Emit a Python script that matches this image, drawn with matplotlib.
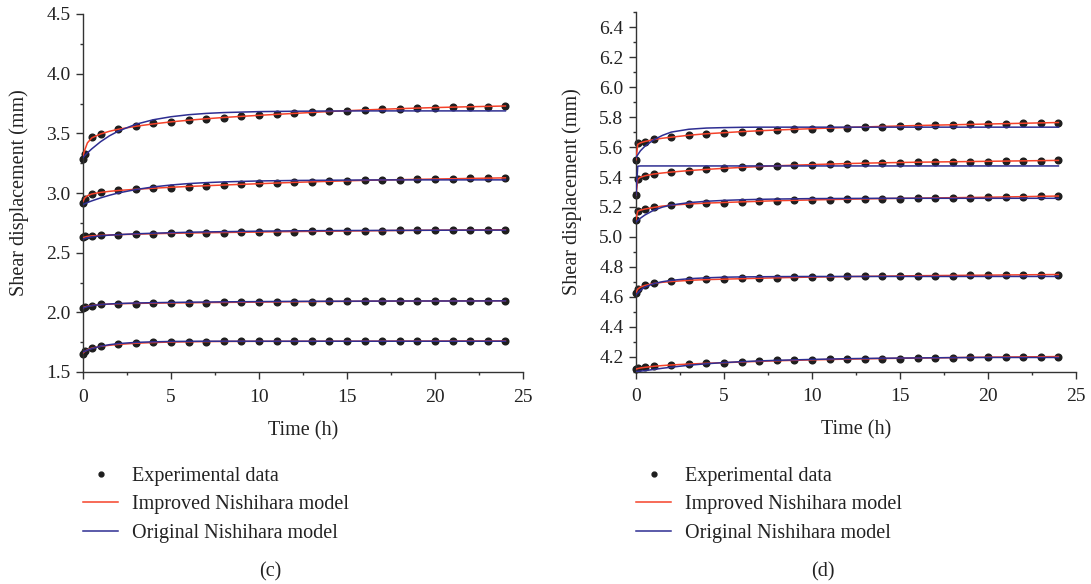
import numpy as np
import matplotlib
matplotlib.use("Agg")
import matplotlib.pyplot as plt
from matplotlib.ticker import MultipleLocator, FormatStrFormatter
from matplotlib.lines import Line2D

plt.rcParams['font.family'] = ['Liberation Serif', 'DejaVu Serif']

# ---------------- data ----------------
t_exp = [0, 0.1, 0.5, 1] + list(range(2, 25))
t_fit = [0, 0.1, 0.25, 0.5, 1, 1.5, 2, 3, 4, 5, 6, 7, 8, 10, 12, 14, 16, 18, 20, 22, 24]

# panel (c)
c1_exp = [3.283, 3.33, 3.471, 3.497, 3.533, 3.558, 3.583, 3.598, 3.612, 3.620, 3.632, 3.643, 3.651,
          3.660, 3.668, 3.676, 3.685, 3.690, 3.696, 3.702, 3.707, 3.713, 3.716, 3.718, 3.724, 3.724, 3.727]
c2_exp = [2.917, 2.948, 2.993, 3.008, 3.022, 3.030, 3.039, 3.044, 3.052, 3.058, 3.067, 3.078, 3.081,
          3.086, 3.092, 3.095, 3.100, 3.103, 3.106, 3.109, 3.111, 3.114, 3.117, 3.120, 3.123, 3.123, 3.126]
c3_exp = [2.631, 2.637, 2.642, 2.645, 2.651, 2.656, 2.659, 2.662, 2.665, 2.668, 2.668, 2.670, 2.673,
          2.676, 2.676, 2.679, 2.679, 2.681, 2.681, 2.684, 2.687, 2.687, 2.688, 2.688, 2.689, 2.689, 2.690]
c4_exp = [2.040, 2.046, 2.057, 2.066, 2.072, 2.074, 2.077, 2.078, 2.080, 2.082, 2.083, 2.085, 2.086,
          2.088, 2.089, 2.090, 2.091, 2.092, 2.093, 2.093, 2.094, 2.095, 2.095, 2.096, 2.096, 2.097, 2.097]
c5_exp = [1.653, 1.673, 1.701, 1.718, 1.732, 1.743, 1.748, 1.751, 1.754, 1.755, 1.756, 1.756, 1.757,
          1.757, 1.757, 1.758, 1.758, 1.758, 1.758, 1.759, 1.759, 1.759, 1.759, 1.759, 1.760, 1.760, 1.760]

c1_imp = [3.31, 3.36, 3.42, 3.462, 3.495, 3.517, 3.534, 3.559, 3.579, 3.596, 3.61, 3.622, 3.633,
          3.651, 3.667, 3.683, 3.696, 3.707, 3.716, 3.723, 3.729]
c1_org = [3.297, 3.314, 3.336, 3.37, 3.43, 3.479, 3.518, 3.576, 3.614, 3.639, 3.656, 3.667, 3.674,
          3.682, 3.685, 3.687, 3.688, 3.688, 3.688, 3.688, 3.688]
c2_imp = [2.93, 2.958, 2.977, 2.992, 3.005, 3.014, 3.021, 3.031, 3.04, 3.048, 3.055, 3.061, 3.067,
          3.078, 3.089, 3.098, 3.106, 3.112, 3.117, 3.122, 3.127]
c2_org = [2.904, 2.91, 2.92, 2.934, 2.959, 2.981, 3.0, 3.029, 3.051, 3.067, 3.079, 3.087, 3.093,
          3.101, 3.105, 3.107, 3.109, 3.11, 3.11, 3.11, 3.11]
c3_imp = [2.625, 2.631, 2.636, 2.641, 2.645, 2.648, 2.651, 2.655, 2.659, 2.662, 2.665, 2.667, 2.669,
          2.673, 2.677, 2.680, 2.683, 2.686, 2.688, 2.690, 2.692]
c3_org = [2.615, 2.619, 2.625, 2.632, 2.641, 2.647, 2.651, 2.658, 2.663, 2.667, 2.671, 2.674, 2.676,
          2.680, 2.683, 2.685, 2.686, 2.687, 2.688, 2.689, 2.689]
c4_imp = [2.038, 2.045, 2.051, 2.057, 2.065, 2.069, 2.072, 2.075, 2.077, 2.079, 2.080, 2.082, 2.083,
          2.086, 2.089, 2.091, 2.093, 2.094, 2.095, 2.096, 2.097]
c4_org = [2.036, 2.041, 2.048, 2.056, 2.065, 2.070, 2.074, 2.078, 2.081, 2.083, 2.085, 2.086, 2.088,
          2.090, 2.092, 2.093, 2.094, 2.095, 2.095, 2.095, 2.096]
c5_imp = [1.66, 1.672, 1.686, 1.70, 1.715, 1.724, 1.731, 1.741, 1.747, 1.751, 1.753, 1.755, 1.756,
          1.757, 1.757, 1.758, 1.758, 1.759, 1.759, 1.760, 1.760]
c5_org = [1.668, 1.674, 1.683, 1.696, 1.716, 1.729, 1.738, 1.748, 1.753, 1.756, 1.757, 1.758, 1.758,
          1.758, 1.758, 1.758, 1.758, 1.758, 1.758, 1.758, 1.758]

# panel (d)
d1_exp = [5.513, 5.625, 5.636, 5.654, 5.667, 5.681, 5.689, 5.696, 5.703, 5.709, 5.714, 5.719, 5.721,
          5.725, 5.729, 5.734, 5.736, 5.741, 5.743, 5.745, 5.749, 5.752, 5.754, 5.756, 5.759, 5.759, 5.763]
d2_exp = [5.28, 5.385, 5.41, 5.422, 5.434, 5.443, 5.451, 5.46, 5.465, 5.471, 5.475, 5.478, 5.482,
          5.487, 5.489, 5.491, 5.493, 5.496, 5.498, 5.50, 5.50, 5.502, 5.502, 5.505, 5.505, 5.507, 5.511]
d3_exp = [5.115, 5.173, 5.184, 5.198, 5.213, 5.220, 5.224, 5.229, 5.233, 5.238, 5.242, 5.244, 5.246,
          5.248, 5.251, 5.253, 5.253, 5.255, 5.258, 5.260, 5.262, 5.262, 5.264, 5.266, 5.268, 5.271, 5.273]
d4_exp = [4.623, 4.655, 4.677, 4.692, 4.705, 4.711, 4.717, 4.720, 4.723, 4.727, 4.729, 4.730, 4.733,
          4.734, 4.736, 4.737, 4.739, 4.740, 4.741, 4.741, 4.742, 4.743, 4.744, 4.745, 4.745, 4.746, 4.747]
d5_exp = [4.115, 4.122, 4.129, 4.137, 4.146, 4.151, 4.155, 4.160, 4.166, 4.171, 4.175, 4.175, 4.180,
          4.182, 4.182, 4.184, 4.186, 4.186, 4.189, 4.191, 4.193, 4.195, 4.195, 4.197, 4.197, 4.199, 4.199]

d1_imp = [5.515, 5.618, 5.628, 5.637, 5.650, 5.659, 5.666, 5.679, 5.689, 5.696, 5.703, 5.709, 5.714,
          5.723, 5.731, 5.738, 5.744, 5.749, 5.754, 5.759, 5.764]
d1_org = [5.53, 5.549, 5.575, 5.605, 5.648, 5.678, 5.700, 5.719, 5.727, 5.730, 5.732, 5.733, 5.733,
          5.733, 5.733, 5.733, 5.733, 5.733, 5.733, 5.733, 5.733]
d2_imp = [5.28, 5.385, 5.398, 5.408, 5.42, 5.427, 5.433, 5.443, 5.451, 5.458, 5.464, 5.47, 5.475,
          5.483, 5.49, 5.495, 5.499, 5.502, 5.505, 5.508, 5.511]
d2_org = [5.28, 5.472, 5.474, 5.474, 5.474, 5.474, 5.474, 5.474, 5.474, 5.474, 5.474, 5.474, 5.474,
          5.474, 5.474, 5.474, 5.474, 5.474, 5.474, 5.474, 5.474]
d3_imp = [5.115, 5.172, 5.179, 5.186, 5.197, 5.206, 5.212, 5.22, 5.226, 5.23, 5.234, 5.238, 5.242,
          5.247, 5.252, 5.256, 5.259, 5.262, 5.265, 5.269, 5.273]
d3_org = [5.10, 5.11, 5.125, 5.146, 5.178, 5.199, 5.213, 5.229, 5.238, 5.244, 5.248, 5.251, 5.253,
          5.256, 5.257, 5.258, 5.258, 5.258, 5.258, 5.258, 5.258]
d4_imp = [4.628, 4.652, 4.665, 4.676, 4.689, 4.697, 4.702, 4.710, 4.715, 4.718, 4.721, 4.724, 4.727,
          4.732, 4.735, 4.738, 4.741, 4.743, 4.745, 4.747, 4.749]
d4_org = [4.615, 4.626, 4.643, 4.665, 4.688, 4.701, 4.71, 4.721, 4.727, 4.731, 4.733, 4.734, 4.735,
          4.736, 4.736, 4.736, 4.736, 4.736, 4.736, 4.736, 4.736]
d5_imp = [4.118, 4.121, 4.125, 4.129, 4.136, 4.141, 4.145, 4.151, 4.156, 4.160, 4.165, 4.169, 4.173,
          4.179, 4.184, 4.188, 4.191, 4.194, 4.197, 4.199, 4.201]
d5_org = [4.10, 4.102, 4.104, 4.107, 4.115, 4.123, 4.13, 4.143, 4.153, 4.161, 4.167, 4.172, 4.176,
          4.182, 4.187, 4.19, 4.192, 4.194, 4.195, 4.195, 4.195]

panel_c = [(c1_exp, c1_imp, c1_org), (c2_exp, c2_imp, c2_org), (c3_exp, c3_imp, c3_org),
           (c4_exp, c4_imp, c4_org), (c5_exp, c5_imp, c5_org)]
panel_d = [(d1_exp, d1_imp, d1_org), (d2_exp, d2_imp, d2_org), (d3_exp, d3_imp, d3_org),
           (d4_exp, d4_imp, d4_org), (d5_exp, d5_imp, d5_org)]

legend_labels = ["Experimental data", "Improved Nishihara model", "Original Nishihara model"]
captions = ["(c)", "(d)"]
d_yticks = [4.2, 4.4, 4.6, 4.8, 5.0, 5.2, 5.4, 5.6, 5.8, 6.0, 6.2, 6.4]

RED = '#F5422A'
BLUE = '#2E2E92'
DOT = '#1E1E1E'
AX = '#333333'
TXT = '#222222'

W, H = 1091, 584
fig = plt.figure(figsize=(W / 100, H / 100), dpi=100)

def fx(px):
    return px / W

def fy(py):
    return 1 - py / H

ax_c = fig.add_axes([fx(83), fy(372), fx(440), (372 - 14) / H])
ax_d = fig.add_axes([fx(636), fy(371.7), fx(440), (371.7 - 12.3) / H])

def style(ax, ylim, ymaj, ymin):
    ax.set_xlim(0, 25)
    ax.set_ylim(*ylim)
    ax.xaxis.set_major_locator(MultipleLocator(5))
    ax.xaxis.set_minor_locator(MultipleLocator(2.5))
    ax.yaxis.set_major_locator(MultipleLocator(ymaj))
    ax.yaxis.set_minor_locator(MultipleLocator(ymin))
    ax.yaxis.set_major_formatter(FormatStrFormatter('%.1f'))
    for s in ['top', 'right']:
        ax.spines[s].set_visible(False)
    for s in ['left', 'bottom']:
        ax.spines[s].set_color(AX)
        ax.spines[s].set_linewidth(1.0)
    ax.tick_params(which='major', direction='out', length=5, width=1.0, color=AX,
                   labelsize=14, labelcolor=TXT)
    ax.tick_params(axis='x', which='major', pad=7)
    ax.tick_params(axis='y', which='major', pad=4)
    ax.tick_params(which='minor', direction='out', length=2.5, width=1.0, color=AX)
    ax.set_xlabel("Time (h)", fontsize=14.5, color=TXT, labelpad=11)
    ax.set_ylabel("Shear displacement (mm)", fontsize=14.5, color=TXT, labelpad=12)

for ax, panel in [(ax_c, panel_c), (ax_d, panel_d)]:
    for exp, imp, org in panel:
        ax.plot(t_exp, exp, 'o', color=DOT, ms=4.8, mec=DOT, zorder=2, clip_on=False)
        ax.plot(t_fit, imp, '-', color=RED, lw=1.1, zorder=3)
        ax.plot(t_fit, org, '-', color=BLUE, lw=1.1, zorder=4)

style(ax_c, (1.5, 4.5), 0.5, 0.25)
style(ax_d, (4.1, 6.5), 0.2, 0.1)
ax_d.set_yticks(d_yticks)

handles = [Line2D([], [], ls='none', marker='o', ms=3.5, color=DOT),
           Line2D([], [], color=RED, lw=1.1),
           Line2D([], [], color=BLUE, lw=1.1)]

for x0, xc, cap in [(83, 270, captions[0]), (636, 823, captions[1])]:
    fig.legend(handles, legend_labels, loc='upper left', bbox_to_anchor=(fx(x0), fy(467)),
               frameon=False, fontsize=14.5, handlelength=1.75, handletextpad=0.7,
               labelspacing=0.46, borderpad=0, borderaxespad=0, labelcolor=TXT)
    fig.text(fx(xc), fy(572), cap, ha='center', va='center', fontsize=14.5, color=TXT)

fig.savefig("out.png", dpi=100)
